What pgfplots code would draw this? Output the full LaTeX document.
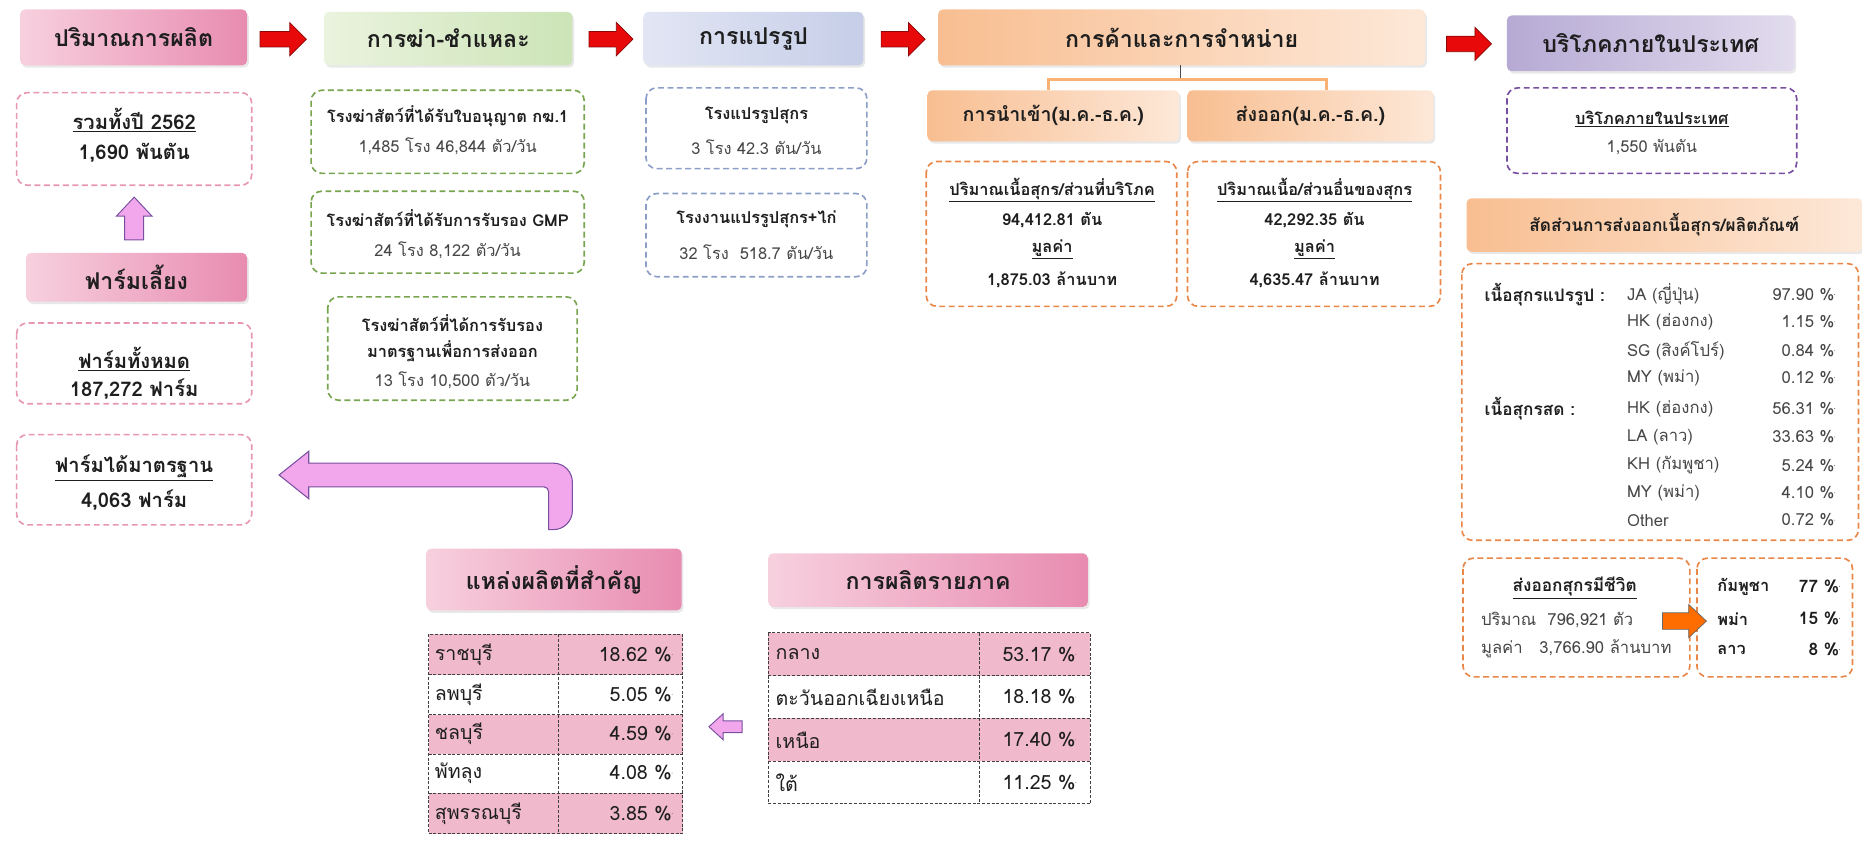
\documentclass[border=0pt]{standalone}
\usepackage{fontspec}
\setmainfont{Loma}[Script=Thai]
\usepackage{pgfplots}
\usepackage{pgfplotstable}
\usetikzlibrary{shadows}
\pgfplotsset{compat=1.18}
\pgfkeys{/pgf/number format/assume math mode=true}

\definecolor{pinkL}{RGB}{247,208,222}
\definecolor{pinkR}{RGB}{232,140,176}
\definecolor{greenL}{RGB}{234,243,222}
\definecolor{greenR}{RGB}{204,228,183}
\definecolor{blueL}{RGB}{226,230,244}
\definecolor{blueR}{RGB}{198,206,232}
\definecolor{orangeL}{RGB}{253,232,216}
\definecolor{orangeR}{RGB}{248,190,145}
\definecolor{purpleL}{RGB}{226,220,238}
\definecolor{purpleR}{RGB}{182,170,212}
\definecolor{pinkD}{RGB}{231,150,180}
\definecolor{greenD}{RGB}{120,165,80}
\definecolor{blueD}{RGB}{140,158,200}
\definecolor{orangeD}{RGB}{232,135,72}
\definecolor{purpleD}{RGB}{120,78,160}
\definecolor{arrred}{RGB}{232,10,10}
\definecolor{pk}{RGB}{242,166,236}
\definecolor{pkd}{RGB}{120,80,160}
\definecolor{cellpink}{RGB}{241,186,204}
\definecolor{txt}{RGB}{30,30,30}
\definecolor{gtxt}{RGB}{70,70,70}

\newcommand\hfont{\fontsize{19.5}{22}\selectfont\bfseries}
\newcommand\sfont{\fontsize{16.5}{19}\selectfont\bfseries}
\newcommand\xfont{\fontsize{14.5}{17}\selectfont\bfseries}
\newcommand\bfnt{\fontsize{13.8}{16}\selectfont\bfseries}
\newcommand\nfnt{\fontsize{13.8}{16}\selectfont}
\newcommand\efnt{\fontsize{14}{16}\selectfont}
\newcommand\ebfnt{\fontsize{14.5}{16}\selectfont\bfseries}
\newcommand\lfnt{\fontsize{17}{20}\selectfont\bfseries}
\newcommand\tfnt{\fontsize{16.5}{19}\selectfont}

\tikzset{bt/.style={font=\bfnt,text=txt,inner sep=0pt},
         nt/.style={font=\nfnt,text=gtxt,inner sep=0pt},
         lt/.style={font=\lfnt,text=txt,inner sep=0pt},
         tt/.style={font=\tfnt,text=txt,inner sep=0pt,anchor=west}}

% header box: [font]{x0}{y0}{x1}{y1}{left colour}{right colour}{text}
\newcommand{\hdr}[8][\hfont]{%
  \draw[rounded corners=4pt, left color=#6, right color=#7, draw=none,
        drop shadow={opacity=0.18, shadow xshift=1.5pt, shadow yshift=-2pt}] (#2,#3) rectangle (#4,#5);
  \node[font=#1, text=txt] at ({(#2+#4)/2},{(#3+#5)/2}) {#8};}
% dashed box
\newcommand{\dbox}[5]{%
  \draw[#5, line width=1.4pt, rounded corners=9pt, dash pattern=on 5pt off 3pt] (#1,#2) rectangle (#3,#4);}
% red block arrow: x0 x1 yc
\newcommand{\rarr}[3]{%
  \draw[fill=arrred, draw=arrred!60!black, line width=0.6pt] (#1,{#3-6.5}) -- ({#2-14},{#3-6.5}) -- ({#2-14},{#3-14}) -- (#2,#3) -- ({#2-14},{#3+14}) -- ({#2-14},{#3+6.5}) -- (#1,{#3+6.5}) -- cycle;}

\pgfplotstableread{
x y v
1545 248 97.90
1545 271 1.15
1545 295 0.84
1545 318 0.12
1545 344 56.31
1545 368 33.63
1545 392 5.24
1545 415 4.10
1545 438 0.72
}\exptab

\pgfplotstableread{
x y v
1549 494 77
1549 521 15
1549 547 8
}\livetab

\pgfplotstableread{
x y v
566 551 18.62
566 585 5.05
566 618 4.59
566 651 4.08
566 685 3.85
}\provtab

\pgfplotstableread{
x y v
906 551 53.17
906 587 18.18
906 623 17.40
906 659 11.25
}\regtab

\begin{document}
\begin{tikzpicture}
\begin{axis}[
    width=1568pt, height=717pt, scale only axis,
    xmin=0, xmax=1568, ymin=0, ymax=717,
    y dir=reverse, hide axis, clip=false,
]
% ---- top row headers and arrows
\hdr{17}{8}{208}{55}{pinkL}{pinkR}{ปริมาณการผลิต}
\hdr{273}{10}{482}{55}{greenL}{greenR}{การฆ่า-ชำแหละ}
\hdr{542}{10}{727}{55}{blueL}{blueR}{การแปรรูป}
\hdr{790}{8}{1200}{55}{orangeR}{orangeL}{การค้าและการจำหน่าย}
\hdr{1269}{13}{1511}{60}{purpleR}{purpleL}{บริโภคภายในประเทศ}
\rarr{219}{258}{33}
\rarr{496}{533}{33}
\rarr{742}{779}{33}
\rarr{1218}{1256}{37}

% ---- trade branch
\draw[line width=0.8pt, black!70] (994,55) -- (994,67);
\draw[line width=2pt, orangeR!80!orange] (883,76) -- (883,67) -- (1117,67) -- (1117,76);
\hdr[\sfont]{781}{76}{993}{119}{orangeR}{orangeL}{การนำเข้า(ม.ค.-ธ.ค.)}
\hdr[\sfont]{1000}{76}{1207}{119}{orangeR}{orangeL}{ส่งออก(ม.ค.-ธ.ค.)}

% ---- production column
\dbox{14}{78}{212}{156}{pinkD}
\node[lt] at (113,101) {\underline{รวมทั้งปี 2562}};
\node[lt] at (113,129) {1,690 พันตัน};
\draw[fill=pk, draw=pkd, line width=0.8pt] (113,166) -- (128,182) -- (121,182) -- (121,202) -- (105,202) -- (105,182) -- (98,182) -- cycle;
\hdr{22}{213}{208}{254}{pinkL}{pinkR}{ฟาร์มเลี้ยง}
\dbox{14}{272}{212}{340}{pinkD}
\node[lt] at (113,302) {\underline{ฟาร์มทั้งหมด}};
\node[lt] at (113,328) {187,272 ฟาร์ม};
\dbox{14}{366}{212}{442}{pinkD}
\node[lt] at (113,394) {\underline{ฟาร์มได้มาตรฐาน}};
\node[lt] at (113,421) {4,063 ฟาร์ม};

% ---- slaughter column
\dbox{262}{76}{492}{146}{greenD}
\node[bt] at (377,98) {โรงฆ่าสัตว์ที่ได้รับใบอนุญาต กฆ.1};
\node[nt] at (377,123) {1,485 โรง 46,844 ตัว/วัน};
\dbox{262}{161}{492}{230}{greenD}
\node[bt] at (377,184) {โรงฆ่าสัตว์ที่ได้รับการรับรอง GMP};
\node[nt] at (377,211) {24 โรง 8,122 ตัว/วัน};
\dbox{276}{250}{486}{337}{greenD}
\node[bt] at (381,272) {โรงฆ่าสัตว์ที่ได้การรับรอง};
\node[bt] at (381,296) {มาตรฐานเพื่อการส่งออก};
\node[nt] at (381,320) {13 โรง 10,500 ตัว/วัน};

% ---- processing column
\dbox{544}{74}{730}{142}{blueD}
\node[bt] at (637,97) {โรงแปรรูปสุกร};
\node[nt] at (637,124) {3 โรง 42.3 ตัน/วัน};
\dbox{544}{163}{730}{233}{blueD}
\node[bt] at (637,185) {โรงงานแปรรูปสุกร+ไก่};
\node[nt] at (637,212) {32 โรง\ \ 518.7 ตัน/วัน};

% ---- import / export
\dbox{780}{136}{991}{258}{orangeD}
\node[bt] at (886,160) {\underline{ปริมาณเนื้อสุกร/ส่วนที่บริโภค}};
\node[bt] at (886,185) {94,412.81 ตัน};
\node[bt] at (886,210) {\underline{มูลค่า}};
\node[bt] at (886,236) {1,875.03 ล้านบาท};
\dbox{1000}{136}{1213}{258}{orangeD}
\node[bt] at (1107,160) {\underline{ปริมาณเนื้อ/ส่วนอื่นของสุกร}};
\node[bt] at (1107,185) {42,292.35 ตัน};
\node[bt] at (1107,210) {\underline{มูลค่า}};
\node[bt] at (1107,236) {4,635.47 ล้านบาท};

% ---- domestic consumption
\dbox{1269}{74}{1513}{146}{purpleD}
\node[bt] at (1391,100) {\underline{บริโภคภายในประเทศ}};
\node[nt] at (1391,124) {1,550 พันตัน};

% ---- export shares
\hdr[\xfont]{1235}{167}{1568}{212}{orangeR}{orangeL}{สัดส่วนการส่งออกเนื้อสุกร/ผลิตภัณฑ์}
\dbox{1231}{222}{1565}{455}{orangeD}
\node[bt, font=\ebfnt, anchor=west] at (1250,248) {เนื้อสุกรแปรรูป :};
\node[bt, font=\ebfnt, anchor=west] at (1250,344) {เนื้อสุกรสด :};
\node[nt, font=\efnt, anchor=west] at (1370,248) {JA (ญี่ปุ่น)};
\node[nt, font=\efnt, anchor=west] at (1370,271) {HK (ฮ่องกง)};
\node[nt, font=\efnt, anchor=west] at (1370,295) {SG (สิงค์โปร์)};
\node[nt, font=\efnt, anchor=west] at (1370,318) {MY (พม่า)};
\node[nt, font=\efnt, anchor=west] at (1370,344) {HK (ฮ่องกง)};
\node[nt, font=\efnt, anchor=west] at (1370,368) {LA (ลาว)};
\node[nt, font=\efnt, anchor=west] at (1370,392) {KH (กัมพูชา)};
\node[nt, font=\efnt, anchor=west] at (1370,415) {MY (พม่า)};
\node[nt, font=\efnt, anchor=west] at (1370,438) {Other};
\addplot[only marks, mark=*, mark size=0.01pt, mark options={draw=none, fill=none},
    point meta=explicit,
    nodes near coords={\pgfmathprintnumber[fixed, fixed zerofill, precision=2]{\pgfplotspointmeta}~\%},
    nodes near coords style={anchor=east, inner sep=0pt, font=\efnt, text=gtxt}]
    table[x=x, y=y, meta=v] {\exptab};

% ---- live pig export
\dbox{1232}{470}{1423}{570}{orangeD}
\dbox{1429}{470}{1560}{570}{orangeD}
\node[bt, font=\ebfnt] at (1326,495) {\underline{ส่งออกสุกรมีชีวิต}};
\node[nt, font=\efnt, anchor=west] at (1247,522) {ปริมาณ\ \ 796,921 ตัว};
\node[nt, font=\efnt, anchor=west] at (1247,546) {มูลค่า\ \ \ 3,766.90 ล้านบาท};
\draw[fill=orange!85!red, draw=black!60, line width=0.6pt] (1400,516) -- (1422,516) -- (1422,509) -- (1437,523) -- (1422,537) -- (1422,530) -- (1400,530) -- cycle;
\node[bt, anchor=west] at (1446,494) {กัมพูชา};
\node[bt, anchor=west] at (1446,521) {พม่า};
\node[bt, anchor=west] at (1446,547) {ลาว};
\addplot[only marks, mark=*, mark size=0.01pt, mark options={draw=none, fill=none},
    point meta=explicit,
    nodes near coords={\pgfmathprintnumber[fixed, precision=0]{\pgfplotspointmeta}~\%},
    nodes near coords style={anchor=east, inner sep=0pt, font=\ebfnt, text=txt}]
    table[x=x, y=y, meta=v] {\livetab};

% ---- bent arrow back to farms
\draw[fill=pk, draw=pkd, line width=0.9pt] (235,400) -- (260,380) -- (260,390) [rounded corners=16pt] -- (482,390) -- (482,446) [sharp corners] -- (462,446) [rounded corners=4pt] -- (462,410) [sharp corners] -- (260,410) -- (260,420) -- cycle;

% ---- key provinces table
\hdr{359}{462}{574}{514}{pinkL}{pinkR}{แหล่งผลิตที่สำคัญ}
\fill[cellpink] (361,534) rectangle (575,568);
\fill[cellpink] (361,602) rectangle (575,635);
\fill[cellpink] (361,668) rectangle (575,702);
\draw[black!75, line width=0.9pt, dash pattern=on 2.5pt off 1.5pt] (361,534) rectangle (575,702)
   (361,568) -- (575,568) (361,602) -- (575,602) (361,635) -- (575,635) (361,668) -- (575,668)
   (470,534) -- (470,702);
\node[tt] at (366,551) {ราชบุรี};
\node[tt] at (366,585) {ลพบุรี};
\node[tt] at (366,618) {ชลบุรี};
\node[tt] at (366,651) {พัทลุง};
\node[tt] at (366,685) {สุพรรณบุรี};
\addplot[only marks, mark=*, mark size=0.01pt, mark options={draw=none, fill=none},
    point meta=explicit,
    nodes near coords={\pgfmathprintnumber[fixed, fixed zerofill, precision=2]{\pgfplotspointmeta}~\%},
    nodes near coords style={anchor=east, inner sep=0pt, font=\tfnt, text=txt}]
    table[x=x, y=y, meta=v] {\provtab};

\draw[fill=pk, draw=pkd, line width=0.8pt] (597,612) -- (609,601) -- (609,607) -- (625,607) -- (625,617) -- (609,617) -- (609,623) -- cycle;

% ---- regional production table
\hdr{647}{466}{916}{511}{pinkL}{pinkR}{การผลิตรายภาค}
\fill[cellpink] (647,533) rectangle (918,569);
\fill[cellpink] (647,605) rectangle (918,641);
\draw[black!75, line width=0.9pt, dash pattern=on 2.5pt off 1.5pt] (647,533) rectangle (918,677)
   (647,569) -- (918,569) (647,605) -- (918,605) (647,641) -- (918,641)
   (825,533) -- (825,677);
\node[tt] at (653,551) {กลาง};
\node[tt] at (653,587) {ตะวันออกเฉียงเหนือ};
\node[tt] at (653,623) {เหนือ};
\node[tt] at (653,659) {ใต้};
\addplot[only marks, mark=*, mark size=0.01pt, mark options={draw=none, fill=none},
    point meta=explicit,
    nodes near coords={\pgfmathprintnumber[fixed, fixed zerofill, precision=2]{\pgfplotspointmeta}~\%},
    nodes near coords style={anchor=east, inner sep=0pt, font=\tfnt, text=txt}]
    table[x=x, y=y, meta=v] {\regtab};
\end{axis}
\pgfresetboundingbox
\path (current axis.south west) rectangle (current axis.north east);
\end{tikzpicture}
\end{document}
